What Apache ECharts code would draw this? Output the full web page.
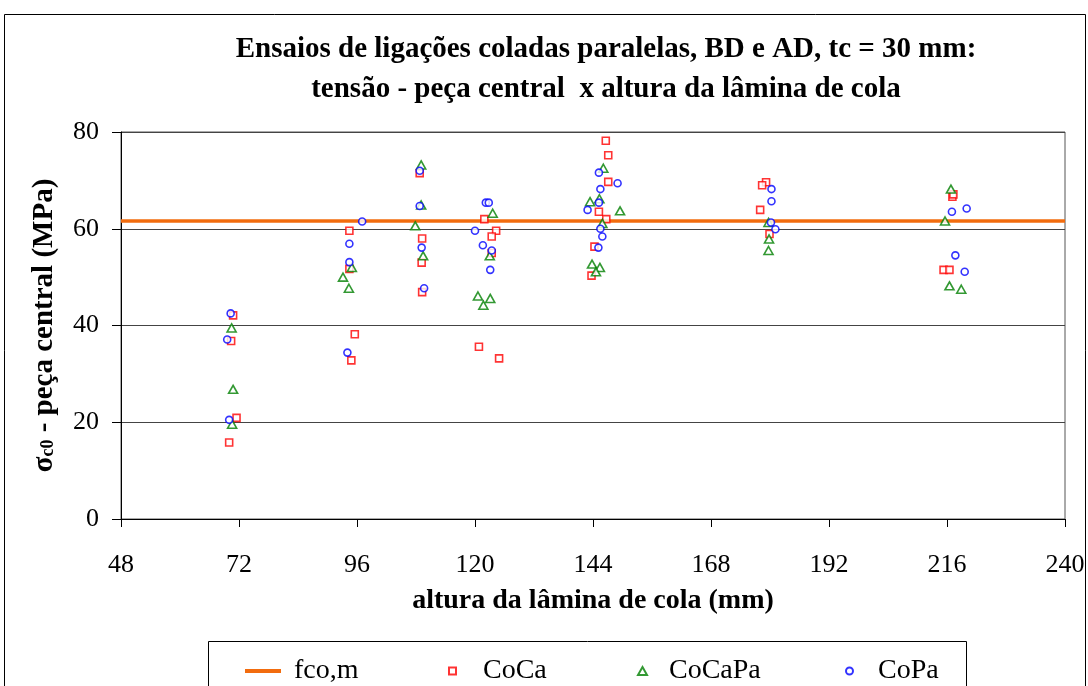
<!DOCTYPE html>
<html><head><meta charset="utf-8">
<script src="https://cdn.jsdelivr.net/npm/echarts@6/dist/echarts.min.js"></script>
<style>html,body{margin:0;padding:0;background:#fff}#c{width:1088px;height:686px}</style>
</head><body><div id="c"></div>
<script>
const titleLines = ['Ensaios de ligações coladas paralelas, BD e AD, tc = 30 mm:', 'tensão - peça central  x altura da lâmina de cola'];
const xName = 'altura da lâmina de cola (mm)';
const seriesNames = ['fco,m', 'CoCa', 'CoCaPa', 'CoPa'];
const fcoValue = 61.6;
const xTicks = [48, 240, 24];
const yTicks = [0, 80, 20];
const coCa = [[70.8,42.1],[70.4,36.8],[71.5,20.9],[70.0,15.8],
  [94.45,59.6],[94.45,51.7],[95.55,38.2],[94.85,32.8],
  [108.75,71.5],[109.25,58.0],[109.15,53.0],[109.25,46.9],
  [121.9,62.0],[124.3,59.6],[123.4,58.4],[123.4,55.0],[120.8,35.6],[124.9,33.2],
  [146.6,78.2],[147.1,75.2],[147.1,69.7],[145.2,63.5],[146.7,62.0],[144.3,56.3],[143.7,50.3],
  [179.2,69.6],[178.4,69.0],[178.0,63.9],[179.9,58.9],
  [217.1,66.6],[217.3,67.1],[215.3,51.5],[216.5,51.5]];
const coCaPa = [[70.5,39.5],[70.8,26.8],[70.6,19.6],
  [94.95,52.0],[93.15,50.0],[94.35,47.7],
  [109.05,73.2],[109.05,64.9],[107.85,60.6],[109.45,54.4],
  [123.6,63.2],[123.0,54.4],[120.6,46.1],[123.1,45.6],[121.7,44.2],
  [146.1,72.5],[143.4,65.6],[145.3,66.2],[149.5,63.7],[145.9,61.1],[143.8,52.7],[145.4,52.0],[144.6,51.1],
  [179.7,61.3],[179.8,57.9],[179.7,55.5],
  [216.8,68.2],[215.6,61.6],[216.5,48.2],[218.9,47.5]];
const coPa = [[70.3,42.5],[69.6,37.1],[70.0,20.5],
  [97.05,61.5],[94.45,56.9],[94.45,53.1],[94.05,34.4],
  [108.75,72.0],[108.75,64.7],[109.15,56.1],[109.65,47.7],
  [122.2,65.4],[122.8,65.4],[120.0,59.6],[121.6,56.6],[123.4,55.5],[123.1,51.5],
  [145.2,71.6],[149.0,69.4],[145.5,68.2],[145.2,65.4],[142.9,63.9],[145.5,60.0],[145.9,58.4],[145.1,56.1],
  [180.3,68.2],[180.3,65.7],[180.2,61.3],[181.1,59.9],
  [220.0,64.2],[217.0,63.5],[217.7,54.5],[219.6,51.1]];

const SERIF = '"Liberation Serif","Times New Roman",serif';
const chart = echarts.init(document.getElementById('c'), null, {renderer:'canvas'});
const hollow = (c) => ({color:'#fff', borderColor:c, borderWidth:1.6});
const legendBase = {top:652, itemGap:0, textStyle:{fontFamily:SERIF, fontSize:28, color:'#000'}};
chart.setOption({
  animation:false,
  backgroundColor:'#fff',
  title:{text:titleLines.join('\n'), left:601, top:25, textAlign:'center',
    textStyle:{fontFamily:SERIF, fontWeight:'bold', fontSize:29, lineHeight:40, color:'#000'}},
  graphic:[
    {type:'rect', shape:{x:4.5,y:14.5,width:1081,height:700}, style:{fill:'none', stroke:'#000', lineWidth:1}, z:-1},
    {type:'rect', shape:{x:208.5,y:641.5,width:758,height:60}, style:{fill:'#fff', stroke:'#000', lineWidth:1}, z:-1}
  ],
  legend:[
    Object.assign({}, legendBase, {left:240, data:[{name:seriesNames[0], icon:'rect'}], itemWidth:36, itemHeight:4, textStyle:Object.assign({}, legendBase.textStyle, {padding:[0,0,0,8]})}),
    Object.assign({}, legendBase, {left:443, data:[{name:seriesNames[1], icon:'rect'}], itemWidth:7, itemHeight:7, textStyle:Object.assign({}, legendBase.textStyle, {padding:[0,0,0,22]})}),
    Object.assign({}, legendBase, {left:632, data:[{name:seriesNames[2], icon:'triangle'}], itemWidth:9, itemHeight:8, textStyle:Object.assign({}, legendBase.textStyle, {padding:[0,0,0,17]})}),
    Object.assign({}, legendBase, {left:840, data:[{name:seriesNames[3], icon:'circle'}], itemWidth:7, itemHeight:7, textStyle:Object.assign({}, legendBase.textStyle, {padding:[0,0,0,20]})})
  ],
  grid:{left:121, top:132, right:23, bottom:167, show:true, borderColor:'#555', borderWidth:1},
  xAxis:{type:'value', min:xTicks[0], max:xTicks[1], interval:xTicks[2],
    name:xName, nameLocation:'middle', nameGap:68,
    nameTextStyle:{fontFamily:SERIF, fontWeight:'bold', fontSize:28, color:'#000'},
    axisLine:{lineStyle:{color:'#000', width:1}}, axisTick:{show:true, length:8, lineStyle:{color:'#000'}},
    axisLabel:{margin:33, fontFamily:SERIF, fontSize:26, color:'#000'}, splitLine:{show:false}},
  yAxis:{type:'value', min:yTicks[0], max:yTicks[1], interval:yTicks[2],
    name:'{s|σ}{sub|c0}{s| - peça central (MPa)}', nameLocation:'middle', nameGap:62,
    nameTextStyle:{fontFamily:SERIF, fontWeight:'bold', fontSize:29, color:'#000',
      rich:{s:{fontFamily:SERIF, fontWeight:'bold', fontSize:29, color:'#000'}, sub:{fontFamily:SERIF, fontWeight:'bold', fontSize:18, color:'#000', padding:[8,0,0,0]}}},
    axisLine:{show:true, lineStyle:{color:'#000', width:1}}, axisTick:{show:true, length:9, lineStyle:{color:'#000'}},
    axisLabel:{margin:22, fontFamily:SERIF, fontSize:26, color:'#000'},
    splitLine:{show:true, lineStyle:{color:'#444', width:1}}},
  series:[
    {name:seriesNames[0], type:'line', data:[[xTicks[0], fcoValue],[xTicks[1], fcoValue]], symbol:'none',
      lineStyle:{color:'#f26c0e', width:3.5}, itemStyle:{color:'#f26c0e'}, z:1},
    {name:seriesNames[1], type:'scatter', data:coCa, symbol:'rect', symbolSize:7, itemStyle:hollow('#ff0000'), z:3},
    {name:seriesNames[2], type:'scatter', data:coCaPa, symbol:'triangle', symbolSize:[9,8], itemStyle:hollow('#008000'), z:4},
    {name:seriesNames[3], type:'scatter', data:coPa, symbol:'circle', symbolSize:7, itemStyle:hollow('#0000ff'), z:5}
  ]
});
</script></body></html>
